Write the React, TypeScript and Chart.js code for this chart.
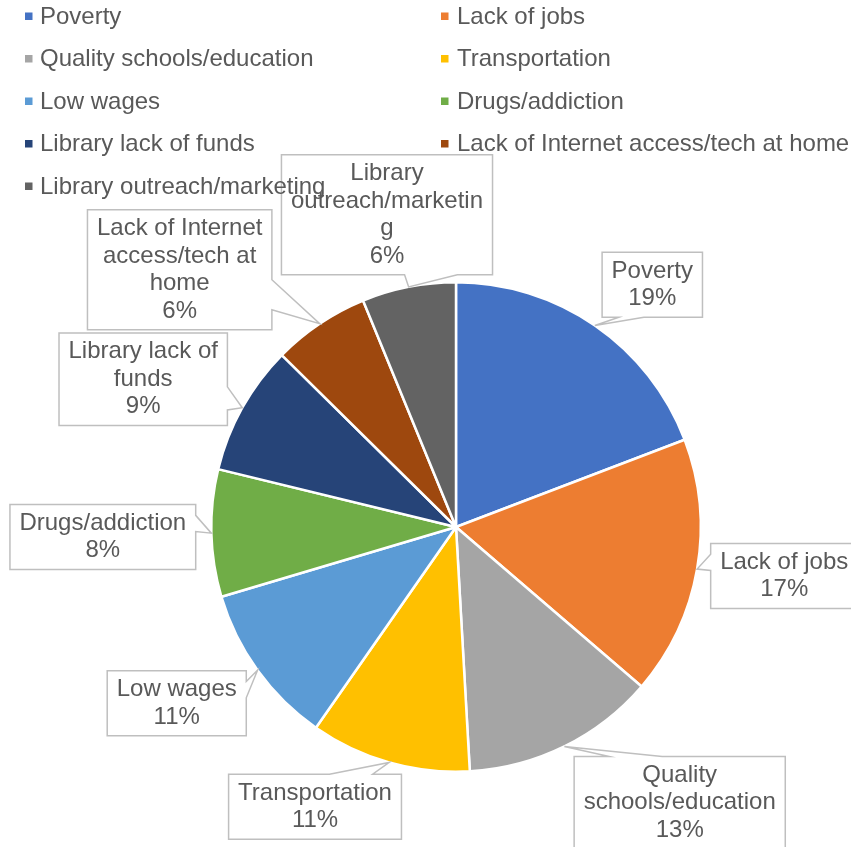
import React, { useEffect, useRef } from 'react';
import { Chart, registerables } from 'chart.js';

Chart.register(...registerables);

const categories = [
  'Poverty',
  'Lack of jobs',
  'Quality schools/education',
  'Transportation',
  'Low wages',
  'Drugs/addiction',
  'Library lack of funds',
  'Lack of Internet access/tech at home',
  'Library outreach/marketing',
];
const shares = [19.2, 17.1, 12.8, 10.6, 10.7, 8.4, 8.6, 6.4, 6.2];
const colors = ['#4472C4', '#ED7D31', '#A5A5A5', '#FFC000', '#5B9BD5', '#70AD47', '#264478', '#9E480E', '#636363'];

// callout box centres, relative to pie centre in units of the pie radius
const calloutOffsets: [number, number][] = [
  [0.802, -0.99],
  [1.341, 0.2],
  [0.914, 1.127],
  [-0.576, 1.143],
  [-1.141, 0.72],
  [-1.443, 0.041],
  [-1.278, -0.604],
  [-1.129, -1.051],
  [-0.282, -1.276],
];

const FONT = '24px "Liberation Sans", Arial, sans-serif';
const TEXT = '#595959';
const WRAP = 198;
const LINE_H = 27.5;

function wrap(ctx: CanvasRenderingContext2D, text: string, max: number): string[] {
  const words = text.split(' ');
  const lines: string[] = [];
  let cur = '';
  for (const w of words) {
    const cand = cur ? cur + ' ' + w : w;
    if (ctx.measureText(cand).width <= max) {
      cur = cand;
      continue;
    }
    if (cur) lines.push(cur);
    cur = '';
    let word = w;
    while (ctx.measureText(word).width > max) {
      let k = word.length;
      while (k > 1 && ctx.measureText(word.slice(0, k)).width > max) k--;
      lines.push(word.slice(0, k));
      word = word.slice(k);
    }
    cur = word;
  }
  if (cur) lines.push(cur);
  return lines;
}

const overlayPlugin = {
  id: 'overlay',
  afterDraw(chart: any) {
    const ctx: CanvasRenderingContext2D = chart.ctx;
    const meta = chart.getDatasetMeta(0);
    const data = chart.data.datasets[0].data as number[];
    const total = data.reduce((a, b) => a + b, 0);
    ctx.save();
    ctx.font = FONT;
    ctx.textAlign = 'center';
    ctx.textBaseline = 'middle';
    meta.data.forEach((arc: any, i: number) => {
      const p = arc.getProps(['x', 'y', 'startAngle', 'endAngle', 'outerRadius'], true);
      const mid = (p.startAngle + p.endAngle) / 2;
      const tx = p.x + p.outerRadius * Math.cos(mid);
      const ty = p.y + p.outerRadius * Math.sin(mid);
      const label = chart.data.labels[i] as string;
      const lines = wrap(ctx, label, WRAP);
      lines.push(Math.round((data[i] / total) * 100) + '%');
      const maxW = Math.max(...lines.map((l) => ctx.measureText(l).width));
      const w = maxW + 19;
      const h = lines.length * LINE_H + 10;
      const cx = p.x + calloutOffsets[i][0] * p.outerRadius;
      const cy = p.y + calloutOffsets[i][1] * p.outerRadius;
      const l = cx - w / 2;
      const t = cy - h / 2;
      const r = l + w;
      const b = t + h;
      const dx = tx - cx;
      const dy = ty - cy;
      const dq = (dx * h) / w;
      const dz = Math.abs(dy) - Math.abs(dq);
      const xg1 = dx > 0 ? 7 : 2;
      const xg2 = dx > 0 ? 10 : 5;
      const yg1 = dy > 0 ? 7 : 2;
      const yg2 = dy > 0 ? 10 : 5;
      const x1 = l + (w * xg1) / 12;
      const x2 = l + (w * xg2) / 12;
      const y1 = t + (h * yg1) / 12;
      const y2 = t + (h * yg2) / 12;
      const inside = tx >= l && tx <= r && ty >= t && ty <= b;
      ctx.beginPath();
      if (inside) {
        ctx.rect(l, t, w, h);
      } else if (dz > 0 && dy < 0) {
        ctx.moveTo(l, t);
        ctx.lineTo(x1, t);
        ctx.lineTo(tx, ty);
        ctx.lineTo(x2, t);
        ctx.lineTo(r, t);
        ctx.lineTo(r, b);
        ctx.lineTo(l, b);
        ctx.closePath();
      } else if (dz > 0) {
        ctx.moveTo(l, t);
        ctx.lineTo(r, t);
        ctx.lineTo(r, b);
        ctx.lineTo(x2, b);
        ctx.lineTo(tx, ty);
        ctx.lineTo(x1, b);
        ctx.lineTo(l, b);
        ctx.closePath();
      } else if (dx < 0) {
        ctx.moveTo(l, t);
        ctx.lineTo(r, t);
        ctx.lineTo(r, b);
        ctx.lineTo(l, b);
        ctx.lineTo(l, y2);
        ctx.lineTo(tx, ty);
        ctx.lineTo(l, y1);
        ctx.closePath();
      } else {
        ctx.moveTo(l, t);
        ctx.lineTo(r, t);
        ctx.lineTo(r, y1);
        ctx.lineTo(tx, ty);
        ctx.lineTo(r, y2);
        ctx.lineTo(r, b);
        ctx.lineTo(l, b);
        ctx.closePath();
      }
      ctx.fillStyle = '#FFFFFF';
      ctx.fill();
      ctx.strokeStyle = '#BFBFBF';
      ctx.lineWidth = 1.5;
      ctx.stroke();
      ctx.fillStyle = TEXT;
      lines.forEach((ln, k) => {
        ctx.fillText(ln, cx, t + 5 + LINE_H * (k + 0.5));
      });
    });

    // legend, two columns
    ctx.textAlign = 'left';
    const markX = [25, 441];
    const textX = [40, 457];
    (chart.data.labels as string[]).forEach((lab, i) => {
      const col = i % 2;
      const row = Math.floor(i / 2);
      const y = 16 + row * 42.5;
      ctx.fillStyle = colors[i];
      ctx.fillRect(markX[col], y - 3.5, 7.5, 7.5);
      ctx.fillStyle = TEXT;
      ctx.fillText(lab, textX[col], y + 1);
    });
    ctx.restore();
  },
};

export default function App() {
  const ref = useRef<HTMLCanvasElement | null>(null);
  useEffect(() => {
    if (!ref.current) return;
    const chart = new Chart(ref.current, {
      type: 'pie',
      data: {
        labels: categories,
        datasets: [
          {
            data: shares,
            backgroundColor: colors,
            borderColor: '#FFFFFF',
            borderWidth: 2.5,
          },
        ],
      },
      options: {
        responsive: false,
        animation: false,
        layout: { padding: { left: 210, right: 149, top: 281, bottom: 74 } },
        plugins: {
          legend: { display: false },
          tooltip: { enabled: false },
        },
      },
      plugins: [overlayPlugin],
    });
    return () => chart.destroy();
  }, []);
  return (
    <div style={{ position: 'fixed', left: 0, top: 0, width: 851, height: 847, background: '#fff' }}>
      <canvas ref={ref} width={851} height={847} style={{ display: 'block' }} />
    </div>
  );
}
